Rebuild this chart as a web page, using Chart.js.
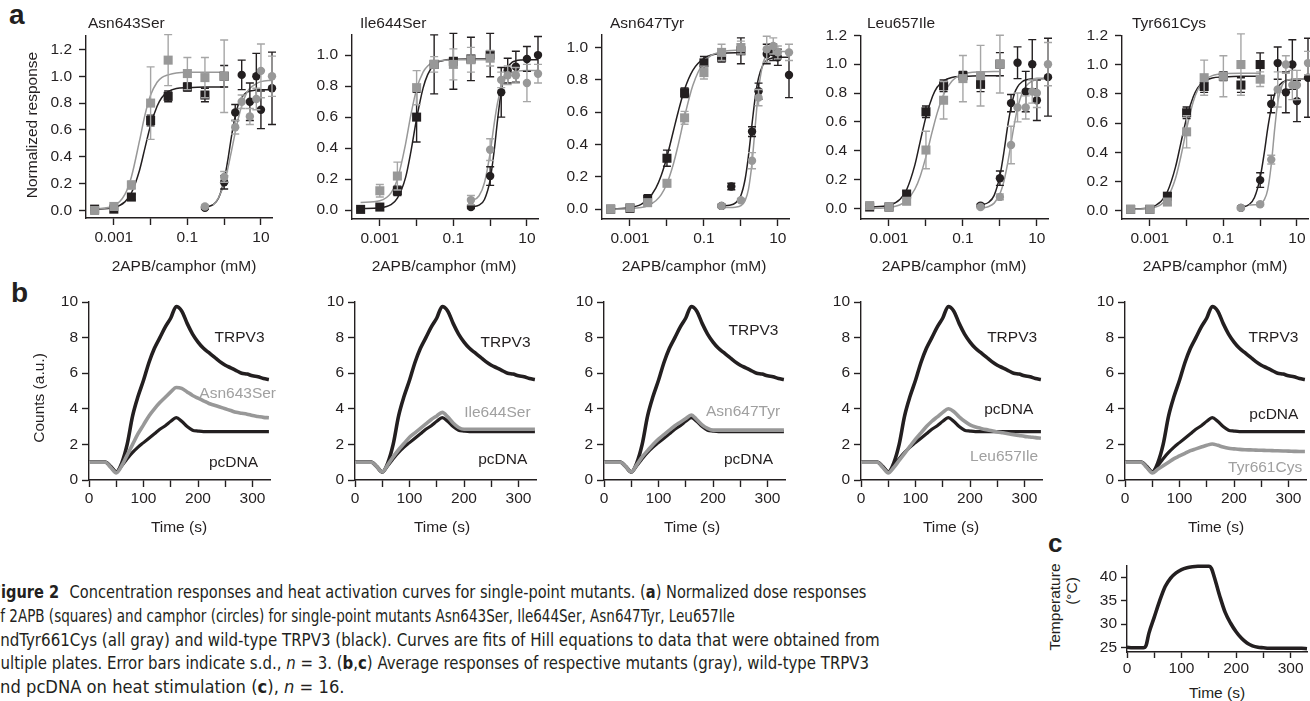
<!DOCTYPE html>
<html><head><meta charset="utf-8"><title>Figure 2</title>
<script src="https://cdn.jsdelivr.net/npm/chart.js@4.4.1/dist/chart.umd.min.js"></script>
<style>
html,body{margin:0;padding:0;background:#fff;overflow:hidden;}
body{width:1310px;height:701px;position:relative;font-family:"Liberation Sans",Arial,Helvetica,sans-serif;color:#231f20;}
canvas.cv{position:absolute;}
.tx{position:absolute;white-space:nowrap;font-size:15.5px;line-height:1;}
.letter{position:absolute;font-weight:bold;line-height:1;white-space:nowrap;}
.cap{position:absolute;left:0;white-space:nowrap;font-family:"Liberation Sans Narrow","DejaVu Sans Condensed","Arial Narrow",sans-serif;font-stretch:condensed;font-size:17px;line-height:1;transform-origin:0 0;color:#231f20;}
</style></head>
<body>
<script>
// ===================== DATA =====================
const doseTicks = [0.001, 0.01, 0.1, 1, 10];
const doseTickLabels = ['0.001', '', '0.1', '', '10'];
const conc2APB = [0.0003, 0.001, 0.003, 0.01, 0.03, 0.1, 0.3, 1];
const concCamphor = [0.3, 1, 2, 3, 5, 7.5, 10, 20];
const concCamphorIle644 = [0.3, 1, 2, 3, 5, 10, 20];
const concCamphorWtAsn647 = [0.3, 0.55, 2, 3, 5, 7.5, 10, 20];
const fitConc2APB = [0.0003, 0.001, 0.002, 0.003, 0.005, 0.007, 0.01, 0.015, 0.02, 0.03, 0.05, 0.1, 0.3, 1];
const fitConcCamphor = [0.3, 0.5, 0.7, 1, 1.3, 1.6, 2, 2.5, 3, 4, 5, 7, 10, 20];

// wild-type TRPV3 (black) – plates shared by Asn643Ser, Leu657Ile, Tyr661Cys
const wt2APB       = [0.01, 0.01, 0.10, 0.67, 0.85, 0.92, 0.86, 1.00];
const wt2APBSd     = [0.01, 0.01, 0.02, 0.04, 0.04, 0.03, 0.05, 0.08];
const wt2APBFit    = [0.01, 0.022, 0.064, 0.13, 0.30, 0.465, 0.635, 0.776, 0.84, 0.885, 0.908, 0.915, 0.92, 0.92];
const wtCamphor    = [0.02, 0.21, 0.73, 1.01, 0.81, 1.00, 0.75, 0.91];
const wtCamphorSd  = [0.01, 0.05, 0.06, 0.11, 0.14, 0.17, 0.14, 0.27];
const wtCamphorFit = [0.024, 0.043, 0.091, 0.227, 0.40, 0.56, 0.70, 0.80, 0.843, 0.878, 0.89, 0.897, 0.90, 0.90];

// Asn643Ser (gray)
const asn643Ser2APB       = [0.00, 0.03, 0.19, 0.80, 1.12, 1.02, 0.99, 1.00];
const asn643Ser2APBSd     = [0.01, 0.01, 0.03, 0.27, 0.19, 0.12, 0.15, 0.27];
const asn643Ser2APBFit    = [0.01, 0.035, 0.12, 0.25, 0.52, 0.71, 0.86, 0.955, 0.99, 1.01, 1.025, 1.03, 1.03, 1.03];
const asn643SerCamphor    = [0.03, 0.25, 0.62, 0.81, 0.70, 0.83, 1.04, 1.00];
const asn643SerCamphorSd  = [0.01, 0.04, 0.05, 0.05, 0.06, 0.08, 0.20, 0.15];
const asn643SerCamphorFit = [null, 0.04, 0.095, 0.20, 0.33, 0.45, 0.58, 0.70, 0.78, 0.87, 0.91, 0.94, 0.96, 0.97];

// Ile644Ser panel
const wt2APBIle644        = [0.005, 0.02, 0.125, 0.60, 0.94, 0.96, 0.975, 1.00];
const wt2APBIle644Sd      = [0.01, 0.01, 0.03, 0.16, 0.19, 0.18, 0.14, 0.14];
const wt2APBIle644Fit     = [0.01, 0.015, 0.035, 0.077, 0.21, 0.378, 0.59, 0.787, 0.874, 0.94, 0.964, 0.973, 0.975, 0.975];
const wtCamphorIle644     = [0.02, 0.22, 0.76, 0.90, 0.925, 0.975, 1.00];
const wtCamphorIle644Sd   = [0.01, 0.06, 0.16, 0.08, 0.10, 0.08, 0.12];
const wtCamphorIle644Fit  = [0.022, 0.033, 0.069, 0.195, 0.392, 0.587, 0.764, 0.873, 0.92, 0.954, 0.963, 0.968, 0.97, 0.97];
const ile644Ser2APB       = [null, 0.125, 0.22, 0.79, 0.94, 0.94, 0.97, 0.98];
const ile644Ser2APBSd     = [0, 0.04, 0.09, 0.11, 0.05, 0.10, 0.08, 0.05];
const ile644Ser2APBFit    = [0.05, 0.061, 0.11, 0.198, 0.426, 0.616, 0.782, 0.89, 0.93, 0.955, 0.965, 0.97, 0.97, 0.97];
const ile644SerCamphor    = [0.065, 0.39, 0.84, 0.87, 0.87, 0.82, 0.88];
const ile644SerCamphorSd  = [0.03, 0.07, 0.05, 0.06, 0.05, 0.12, 0.06];
const ile644SerCamphorFit = [0.058, 0.093, 0.177, 0.37, 0.565, 0.696, 0.79, 0.847, 0.871, 0.889, 0.895, 0.899, 0.90, 0.90];

// Asn647Tyr panel
const wt2APBAsn647        = [0.00, 0.005, 0.06, 0.315, 0.72, 0.905, 0.94, 0.98];
const wt2APBAsn647Sd      = [0.005, 0.01, 0.03, 0.05, 0.03, 0.04, 0.03, 0.08];
const wt2APBAsn647Fit     = [0.001, 0.01, 0.03, 0.059, 0.13, 0.208, 0.324, 0.485, 0.60, 0.742, 0.859, 0.933, 0.964, 0.969];
const wtCamphorAsn647     = [0.02, 0.14, 0.48, 0.73, 0.96, 0.97, 0.94, 0.83];
const wtCamphorAsn647Sd   = [0.01, 0.02, 0.03, 0.05, 0.06, 0.05, 0.05, 0.14];
const wtCamphorAsn647Fit  = [0.02, 0.024, 0.037, 0.085, 0.185, 0.328, 0.527, 0.71, 0.812, 0.895, 0.921, 0.935, 0.94, 0.94];
const asn647Tyr2APB       = [0.00, 0.01, 0.04, 0.16, 0.565, 0.845, 0.97, 1.00];
const asn647Tyr2APBSd     = [0.005, 0.01, 0.02, 0.02, 0.04, 0.04, 0.05, 0.04];
const asn647Tyr2APBFit    = [0.0, 0.003, 0.01, 0.021, 0.052, 0.09, 0.159, 0.281, 0.395, 0.573, 0.765, 0.91, 0.974, 0.984];
const asn647TyrCamphor    = [0.02, 0.055, 0.30, 0.69, 0.99, 1.01, 0.97, 0.97];
const asn647TyrCamphorSd  = [0.01, 0.01, 0.05, 0.05, 0.08, 0.05, 0.04, 0.05];
const asn647TyrCamphorFit = [0.01, 0.01, 0.012, 0.022, 0.053, 0.122, 0.287, 0.542, 0.737, 0.905, 0.951, 0.97, 0.975, 0.975];

// Leu657Ile (gray)
const leu657Ile2APB       = [0.02, 0.01, 0.05, 0.405, 0.75, 0.90, 0.92, 1.00];
const leu657Ile2APBSd     = [0.01, 0.01, 0.02, 0.13, 0.13, 0.16, 0.21, 0.20];
const leu657Ile2APBFit    = [0.0, 0.007, 0.026, 0.055, 0.133, 0.224, 0.359, 0.539, 0.659, 0.789, 0.882, 0.931, 0.947, 0.95];
const leu657IleCamphor    = [0.01, 0.08, 0.44, 0.70, 0.70, 0.81, 0.80, 1.00];
const leu657IleCamphorSd  = [0.01, 0.02, 0.13, 0.10, 0.08, 0.08, 0.10, 0.15];
const leu657IleCamphorFit = [0.003, 0.014, 0.037, 0.10, 0.194, 0.305, 0.45, 0.595, 0.694, 0.80, 0.846, 0.879, 0.893, 0.90];

// Tyr661Cys (gray)
const tyr661Cys2APB       = [0.01, 0.01, 0.06, 0.54, 0.91, 0.92, 1.00, 0.90];
const tyr661Cys2APBSd     = [0.01, 0.01, 0.02, 0.11, 0.12, 0.14, 0.21, 0.05];
const tyr661Cys2APBFit    = [0.01, 0.017, 0.042, 0.088, 0.222, 0.373, 0.561, 0.742, 0.826, 0.892, 0.924, 0.937, 0.94, 0.94];
const tyr661CysCamphor    = [0.02, 0.045, 0.35, 0.83, 1.00, 0.86, 0.86, 1.01];
const tyr661CysCamphorSd  = [0.01, 0.01, 0.03, 0.12, 0.06, 0.10, 0.10, 0.08];
const tyr661CysCamphorFit = [null, 0.04, 0.041, 0.049, 0.076, 0.143, 0.313, 0.567, 0.738, 0.861, 0.888, 0.898, 0.90, 0.90];

// (b) heat responses, counts (a.u.)
const timeS = [0,10,20,30,40,50,60,70,80,90,100,110,120,130,140,150,160,170,180,190,200,210,220,230,240,250,260,270,280,290,300,310,320,330];
const trpv3Trace    = [1,1,1,1,0.75,0.45,0.95,2.0,3.6,4.7,5.6,6.6,7.4,8.0,8.6,9.1,9.75,9.5,8.8,8.2,7.75,7.4,7.15,6.9,6.65,6.45,6.3,6.15,6.0,5.95,5.85,5.8,5.7,5.65];
const pcDNATrace    = [1,1,1,1,0.75,0.45,0.8,1.2,1.55,1.85,2.1,2.35,2.6,2.85,3.05,3.3,3.5,3.3,3.0,2.8,2.75,2.72,2.72,2.72,2.72,2.72,2.72,2.72,2.72,2.72,2.72,2.72,2.72,2.72];
const asn643SerTrace = [1,1,1,1,0.7,0.4,0.8,1.4,2.0,2.6,3.1,3.6,4.0,4.35,4.65,4.95,5.2,5.15,4.95,4.75,4.6,4.45,4.3,4.2,4.1,4.0,3.9,3.8,3.75,3.7,3.62,3.57,3.52,3.5];
const ile644SerTrace = [1,1,1,1,0.75,0.45,0.85,1.3,1.7,2.05,2.4,2.65,2.9,3.15,3.4,3.6,3.8,3.55,3.2,2.95,2.85,2.85,2.85,2.85,2.85,2.85,2.85,2.85,2.85,2.85,2.85,2.85,2.85,2.85];
const asn647TyrTrace = [1,1,1,1,0.75,0.45,0.85,1.3,1.65,2.0,2.3,2.55,2.8,3.05,3.25,3.45,3.65,3.4,3.1,2.9,2.8,2.8,2.8,2.8,2.8,2.8,2.8,2.8,2.8,2.8,2.8,2.8,2.8,2.8];
const leu657IleTrace = [1,1,1,1,0.7,0.4,0.7,1.1,1.5,1.9,2.3,2.65,3.0,3.3,3.55,3.8,4.0,3.85,3.55,3.3,3.1,2.98,2.9,2.83,2.77,2.7,2.65,2.6,2.55,2.5,2.45,2.42,2.38,2.35];
const tyr661CysTrace = [1,1,1,1,0.7,0.4,0.6,0.8,1.0,1.2,1.35,1.5,1.65,1.75,1.85,1.95,2.02,1.95,1.85,1.78,1.75,1.72,1.7,1.69,1.68,1.67,1.66,1.65,1.64,1.63,1.62,1.61,1.6,1.6];

// (c) temperature
const tempTimeS = [0,10,20,30,35,40,50,60,70,80,90,100,110,120,130,140,150,155,160,165,170,180,190,200,210,220,230,240,250,260,270,280,290,300,310,320,330];
const tempC     = [25.1,25,25,25,25.5,28,31.5,35,38,39.8,40.9,41.6,42,42.2,42.3,42.3,42.3,41.8,40,38,36,32.5,30.2,28.4,27,26,25.4,25.1,25,24.9,24.9,24.9,24.9,24.9,24.9,24.9,24.8];

const timeTicks = [0, 50, 100, 150, 200, 250, 300];
const timeTickLabels = ['0', '', '100', '', '200', '', '300'];
const countTicks = [0, 2, 4, 6, 8, 10];
const tempTicks = [25, 30, 35, 40];

// ===================== STYLE / LAYOUT =====================
const INK = '#231f20', GRAY = '#989898', GRAY_ERR = '#a6a6a6', GRAY_TXT = '#a0a0a0';
const FONT = '"Liberation Sans", Arial, Helvetica, sans-serif';
Chart.defaults.font.family = FONT;
Chart.defaults.font.size = 15.5;
Chart.defaults.color = INK;
Chart.defaults.animation = false;
Chart.defaults.plugins.legend.display = false;
Chart.defaults.plugins.tooltip.enabled = false;

const M_A = {yw: 50, xh: 40, pt: 14, pr: 22};
const M_B = {yw: 50, xh: 40, pt: 14, pr: 30};
const M_C = {yw: 45, xh: 30, pt: 8, pr: 10};
const DOSE_MIN = 0.000175, DOSE_MAX = 20;

const errorBarPlugin = {
  id: 'errorBars',
  beforeDatasetDraw(chart, args) {
    const ds = chart.data.datasets[args.index];
    if (!ds.errColor) return;
    const ctx = chart.ctx, xs = chart.scales.x, ys = chart.scales.y;
    ctx.save();
    ctx.strokeStyle = ds.errColor; ctx.lineWidth = 1.4;
    ds.data.forEach(p => {
      if (!p.e) return;
      const x = xs.getPixelForValue(p.x);
      const y1 = ys.getPixelForValue(p.y - p.e), y2 = ys.getPixelForValue(p.y + p.e);
      ctx.beginPath();
      ctx.moveTo(x, y1); ctx.lineTo(x, y2);
      ctx.moveTo(x - 4, y1); ctx.lineTo(x + 4, y1);
      ctx.moveTo(x - 4, y2); ctx.lineTo(x + 4, y2);
      ctx.stroke();
    });
    ctx.restore();
  }
};
const traceLabelPlugin = {
  id: 'traceLabels',
  afterDatasetsDraw(chart, args, opts) {
    const items = (opts && opts.items) || [];
    const ctx = chart.ctx, xs = chart.scales.x, ys = chart.scales.y;
    ctx.save();
    ctx.font = '15.5px ' + FONT; ctx.textAlign = 'right'; ctx.textBaseline = 'middle';
    items.forEach(it => { ctx.fillStyle = it.color; ctx.fillText(it.text, xs.getPixelForValue(it.t), ys.getPixelForValue(it.v)); });
    ctx.restore();
  }
};

function pts(xs, ys, sd) {
  const out = [];
  xs.forEach((x, i) => { if (ys[i] == null) return; out.push({x: x, y: ys[i], e: sd ? sd[i] : 0}); });
  return out;
}
function makeCanvas(box, m) {
  const left = box.l - m.yw, top = box.t - m.pt;
  const w = box.r + m.pr - left, h = box.b + m.xh - top;
  const c = document.createElement('canvas');
  c.className = 'cv'; c.width = w; c.height = h;
  Object.assign(c.style, {left: left + 'px', top: top + 'px', width: w + 'px', height: h + 'px'});
  document.body.appendChild(c);
  return c;
}
function axisStyle(len) {
  return {
    grid: {display: true, drawOnChartArea: false, drawTicks: true, tickLength: len, tickWidth: 1.4, tickColor: INK, color: INK},
    border: {display: true, color: INK, width: 1.4}
  };
}
function baseOptions(m, xScale, yScale, pluginOpts) {
  return {
    responsive: false, animation: false, events: [],
    layout: {padding: {left: 0, top: m.pt, right: m.pr, bottom: 0}},
    scales: {x: xScale, y: yScale},
    plugins: Object.assign({legend: {display: false}, tooltip: {enabled: false}}, pluginOpts || {})
  };
}
function markerSet(data, style, color, errColor, order) {
  return {data: data, showLine: false, pointStyle: style, pointRadius: style === 'rect' ? 6.4 : 4.2,
    pointBackgroundColor: color, pointBorderColor: color, pointBorderWidth: 0,
    errColor: errColor, order: order, clip: false};
}
function curveSet(data, color, order) {
  return {data: data, showLine: true, pointRadius: 0, borderColor: color, borderWidth: 1.5,
    cubicInterpolationMode: 'monotone', order: order, clip: false};
}

function doseChart(box, p) {
  const c = makeCanvas(box, M_A);
  const xScale = Object.assign({
    type: 'logarithmic', min: DOSE_MIN, max: DOSE_MAX, position: 'bottom',
    afterBuildTicks: s => { s.ticks = doseTicks.map(v => ({value: v})); },
    afterFit: s => { s.height = M_A.xh; },
    ticks: {autoSkip: false, maxRotation: 0, minRotation: 0, padding: 3, color: INK, callback: (v, i) => doseTickLabels[i]}
  }, axisStyle(7));
  const yScale = Object.assign({
    type: 'linear', min: box.ymin, max: box.ymax, position: 'left',
    afterBuildTicks: s => { s.ticks = box.yticks.map(v => ({value: v})); },
    afterFit: s => { s.width = M_A.yw; },
    ticks: {padding: 7, color: INK, callback: v => Number(v).toFixed(1)}
  }, axisStyle(7));
  new Chart(c, {
    type: 'scatter',
    data: {datasets: [
      markerSet(pts(p.campX, p.mutCamphor, p.mutCamphorSd), 'circle', GRAY, GRAY_ERR, 0),
      markerSet(pts(p.wtCampX, p.wtCamphor, p.wtCamphorSd), 'circle', INK, INK, 1),
      markerSet(pts(conc2APB, p.mut2APB, p.mut2APBSd), 'rect', GRAY, GRAY_ERR, 2),
      markerSet(pts(conc2APB, p.wt2APB, p.wt2APBSd), 'rect', INK, INK, 3),
      curveSet(pts(fitConcCamphor, p.mutCamphorFit), GRAY, 4),
      curveSet(pts(fitConcCamphor, p.wtCamphorFit), INK, 5),
      curveSet(pts(fitConc2APB, p.mut2APBFit), GRAY, 6),
      curveSet(pts(fitConc2APB, p.wt2APBFit), INK, 7)
    ]},
    options: baseOptions(M_A, xScale, yScale),
    plugins: [errorBarPlugin]
  });
}

function timeXScale(m, max, len, pad) {
  return Object.assign({
    type: 'linear', min: 0, max: max, position: 'bottom',
    afterBuildTicks: s => { s.ticks = timeTicks.map(v => ({value: v})); },
    afterFit: s => { s.height = m.xh; },
    ticks: {autoSkip: false, maxRotation: 0, minRotation: 0, padding: pad, color: INK, callback: (v, i) => timeTickLabels[i]}
  }, axisStyle(len));
}
function traceSet(ys, color, order, width) {
  return {data: pts(timeS, ys), showLine: true, pointRadius: 0, borderColor: color, borderWidth: width,
    cubicInterpolationMode: 'monotone', order: order, clip: false};
}
function heatChart(box, mutTrace, labels) {
  const c = makeCanvas(box, M_B);
  const yScale = Object.assign({
    type: 'linear', min: 0, max: 10, position: 'left',
    afterBuildTicks: s => { s.ticks = countTicks.map(v => ({value: v})); },
    afterFit: s => { s.width = M_B.yw; },
    ticks: {padding: 4, color: INK, callback: v => String(v)}
  }, axisStyle(7));
  new Chart(c, {
    type: 'scatter',
    data: {datasets: [
      traceSet(mutTrace, GRAY, 0, 3.6),
      traceSet(pcDNATrace, INK, 1, 3.2),
      traceSet(trpv3Trace, INK, 2, 3.6)
    ]},
    options: baseOptions(M_B, timeXScale(M_B, 332, 7, 2), yScale, {traceLabels: {items: labels}}),
    plugins: [traceLabelPlugin]
  });
}
function tempChart(box) {
  const c = makeCanvas(box, M_C);
  const yScale = Object.assign({
    type: 'linear', min: 24.1, max: 42.5, position: 'left',
    afterBuildTicks: s => { s.ticks = tempTicks.map(v => ({value: v})); },
    afterFit: s => { s.width = M_C.yw; },
    ticks: {padding: 4, color: INK, callback: v => String(v)}
  }, axisStyle(6));
  new Chart(c, {
    type: 'scatter',
    data: {datasets: [{data: pts(tempTimeS, tempC), showLine: true, pointRadius: 0, borderColor: INK, borderWidth: 3.6,
      cubicInterpolationMode: 'monotone', clip: false}]},
    options: baseOptions(M_C, timeXScale(M_C, 330, 6, 1), yScale)
  });
}

// ---- panel a ----
const yT12 = [0, 0.2, 0.4, 0.6, 0.8, 1.0, 1.2], yT10 = [0, 0.2, 0.4, 0.6, 0.8, 1.0];
const A_BOXES = [
  {l: 86, r: 272, t: 33, b: 218, ymin: -0.056, ymax: 1.305, yticks: yT12},
  {l: 352, r: 538, t: 32, b: 219, ymin: -0.057, ymax: 1.134, yticks: yT10},
  {l: 602, r: 789, t: 32, b: 219, ymin: -0.061, ymax: 1.082, yticks: yT10},
  {l: 861, r: 1048, t: 33, b: 219, ymin: -0.073, ymax: 1.2, yticks: yT12},
  {l: 1122, r: 1308, t: 33, b: 219, ymin: -0.056, ymax: 1.2, yticks: yT12}
];
const A_PANELS = [
  {campX: concCamphor, wtCampX: concCamphor, mut2APB: asn643Ser2APB, mut2APBSd: asn643Ser2APBSd, mut2APBFit: asn643Ser2APBFit,
   mutCamphor: asn643SerCamphor, mutCamphorSd: asn643SerCamphorSd, mutCamphorFit: asn643SerCamphorFit,
   wt2APB: wt2APB, wt2APBSd: wt2APBSd, wt2APBFit: wt2APBFit, wtCamphor: wtCamphor, wtCamphorSd: wtCamphorSd, wtCamphorFit: wtCamphorFit},
  {campX: concCamphorIle644, wtCampX: concCamphorIle644, mut2APB: ile644Ser2APB, mut2APBSd: ile644Ser2APBSd, mut2APBFit: ile644Ser2APBFit,
   mutCamphor: ile644SerCamphor, mutCamphorSd: ile644SerCamphorSd, mutCamphorFit: ile644SerCamphorFit,
   wt2APB: wt2APBIle644, wt2APBSd: wt2APBIle644Sd, wt2APBFit: wt2APBIle644Fit, wtCamphor: wtCamphorIle644, wtCamphorSd: wtCamphorIle644Sd, wtCamphorFit: wtCamphorIle644Fit},
  {campX: concCamphor, wtCampX: concCamphorWtAsn647, mut2APB: asn647Tyr2APB, mut2APBSd: asn647Tyr2APBSd, mut2APBFit: asn647Tyr2APBFit,
   mutCamphor: asn647TyrCamphor, mutCamphorSd: asn647TyrCamphorSd, mutCamphorFit: asn647TyrCamphorFit,
   wt2APB: wt2APBAsn647, wt2APBSd: wt2APBAsn647Sd, wt2APBFit: wt2APBAsn647Fit, wtCamphor: wtCamphorAsn647, wtCamphorSd: wtCamphorAsn647Sd, wtCamphorFit: wtCamphorAsn647Fit},
  {campX: concCamphor, wtCampX: concCamphor, mut2APB: leu657Ile2APB, mut2APBSd: leu657Ile2APBSd, mut2APBFit: leu657Ile2APBFit,
   mutCamphor: leu657IleCamphor, mutCamphorSd: leu657IleCamphorSd, mutCamphorFit: leu657IleCamphorFit,
   wt2APB: wt2APB, wt2APBSd: wt2APBSd, wt2APBFit: wt2APBFit, wtCamphor: wtCamphor, wtCamphorSd: wtCamphorSd, wtCamphorFit: wtCamphorFit},
  {campX: concCamphor, wtCampX: concCamphor, mut2APB: tyr661Cys2APB, mut2APBSd: tyr661Cys2APBSd, mut2APBFit: tyr661Cys2APBFit,
   mutCamphor: tyr661CysCamphor, mutCamphorSd: tyr661CysCamphorSd, mutCamphorFit: tyr661CysCamphorFit,
   wt2APB: wt2APB, wt2APBSd: wt2APBSd, wt2APBFit: wt2APBFit, wtCamphor: wtCamphor, wtCamphorSd: wtCamphorSd, wtCamphorFit: wtCamphorFit}
];
A_PANELS.forEach((p, i) => doseChart(A_BOXES[i], p));

// ---- panel b ----
const B_BOXES = [
  {l: 89, r: 270, t: 302, b: 480}, {l: 355, r: 536, t: 302, b: 480}, {l: 604, r: 785, t: 302, b: 480},
  {l: 861, r: 1042, t: 302, b: 480}, {l: 1125, r: 1306, t: 302, b: 480}
];
const B_TRACES = [asn643SerTrace, ile644SerTrace, asn647TyrTrace, leu657IleTrace, tyr661CysTrace];
const B_LABELS = [
  [{text: 'TRPV3', t: 322, v: 8.0, color: INK}, {text: 'Asn643Ser', t: 343, v: 4.84, color: GRAY_TXT}, {text: 'pcDNA', t: 310, v: 0.97, color: INK}],
  [{text: 'TRPV3', t: 322, v: 7.7, color: INK}, {text: 'Ile644Ser', t: 322, v: 3.77, color: GRAY_TXT}, {text: 'pcDNA', t: 316, v: 1.13, color: INK}],
  [{text: 'TRPV3', t: 320, v: 8.4, color: INK}, {text: 'Asn647Tyr', t: 323, v: 3.85, color: GRAY_TXT}, {text: 'pcDNA', t: 310, v: 1.13, color: INK}],
  [{text: 'TRPV3', t: 323, v: 7.97, color: INK}, {text: 'pcDNA', t: 316, v: 3.94, color: INK}, {text: 'Leu657Ile', t: 325, v: 1.31, color: GRAY_TXT}],
  [{text: 'TRPV3', t: 318, v: 8.0, color: INK}, {text: 'pcDNA', t: 318, v: 3.67, color: INK}, {text: 'Tyr661Cys', t: 325, v: 0.69, color: GRAY_TXT}]
];
B_BOXES.forEach((b, i) => heatChart(b, B_TRACES[i], B_LABELS[i]));

// ---- panel c ----
tempChart({l: 1127, r: 1307, t: 560, b: 652});

// ===================== TEXT =====================
function addText(str, x, cy, o) {
  o = o || {};
  const el = document.createElement('div');
  el.className = 'tx'; el.textContent = str;
  const fs = o.size || 15.5;
  el.style.fontSize = fs + 'px';
  if (o.color) el.style.color = o.color;
  if (o.rotate) {
    el.style.left = x + 'px'; el.style.top = cy + 'px';
    el.style.transform = 'translate(-50%,-50%) rotate(-90deg)';
  } else {
    el.style.top = (cy - fs * 0.5) + 'px';
    el.style.left = x + 'px';
    if (o.align === 'center') el.style.transform = 'translateX(-50%)';
  }
  document.body.appendChild(el);
}
function addLetter(ch, x, baseline, size) {
  const el = document.createElement('div');
  el.className = 'letter'; el.textContent = ch;
  el.style.fontSize = size + 'px';
  el.style.left = x + 'px'; el.style.top = (baseline - 0.8465 * size) + 'px';
  document.body.appendChild(el);
}
addLetter('a', 9, 25, 28);
addLetter('b', 11, 303, 28);
addLetter('c', 1048, 552, 26);

[['Asn643Ser', 88, 22.5], ['Ile644Ser', 360, 23], ['Asn647Tyr', 610, 22.5], ['Leu657Ile', 867, 23], ['Tyr661Cys', 1132, 23]]
  .forEach(t => addText(t[0], t[1], t[2]));
[184, 444, 694, 954, 1215].forEach(x => addText('2APB/camphor (mM)', x, 266, {align: 'center'}));
addText('Normalized response', 32, 125, {rotate: true});
addText('Counts (a.u.)', 39, 398, {rotate: true});
[179, 442, 692, 951, 1216].forEach(x => addText('Time (s)', x, 527, {align: 'center'}));
addText('Time (s)', 1217, 693, {align: 'center'});
addText('Temperature', 1055, 607, {rotate: true});
addText('(°C)', 1072, 591, {rotate: true});

// caption (left edge cropped as in the source)
const CAPTION = [
  {html: '<b><span class="f">F</span>igure 2</b><span style="display:inline-block;width:11px"></span>Concentration responses and heat activation curves for single-point mutants. (<b>a</b>) Normalized dose responses', y: 592, right: 866},
  {html: '<span class="f">o</span>f 2APB (squares) and camphor (circles) for single-point mutants Asn643Ser, Ile644Ser, Asn647Tyr, Leu657Ile', y: 616, right: 735},
  {html: '<span class="f">a</span>ndTyr661Cys (all gray) and wild-type TRPV3 (black). Curves are fits of Hill equations to data that were obtained from', y: 640, right: 880},
  {html: '<span class="f">m</span>ultiple plates. Error bars indicate s.d., <i>n</i> = 3. (<b>b</b>,<b>c</b>) Average responses of respective mutants (gray), wild-type TRPV3', y: 663, right: 869},
  {html: '<span class="f">a</span>nd pcDNA on heat stimulation (<b>c</b>), <i>n</i> = 16.', y: 687, right: 345}
];
const capEls = CAPTION.map(cl => {
  const el = document.createElement('div');
  el.className = 'cap'; el.innerHTML = cl.html;
  el.style.top = (cl.y - 8.5) + 'px';
  document.body.appendChild(el);
  return el;
});
function layoutCaption() {
  CAPTION.forEach((cl, i) => {
    const el = capEls[i];
    el.style.transform = 'none'; el.style.left = '0px';
    const W = el.getBoundingClientRect().width;
    const w1 = el.querySelector('.f').getBoundingClientRect().width;
    const s = (cl.right - 0.5) / (W - w1);
    el.style.left = (0.5 - w1 * s) + 'px';
    el.style.transform = 'scaleX(' + s + ')';
  });
}
layoutCaption();
if (document.fonts && document.fonts.ready) document.fonts.ready.then(layoutCaption);
</script>
</body></html>
